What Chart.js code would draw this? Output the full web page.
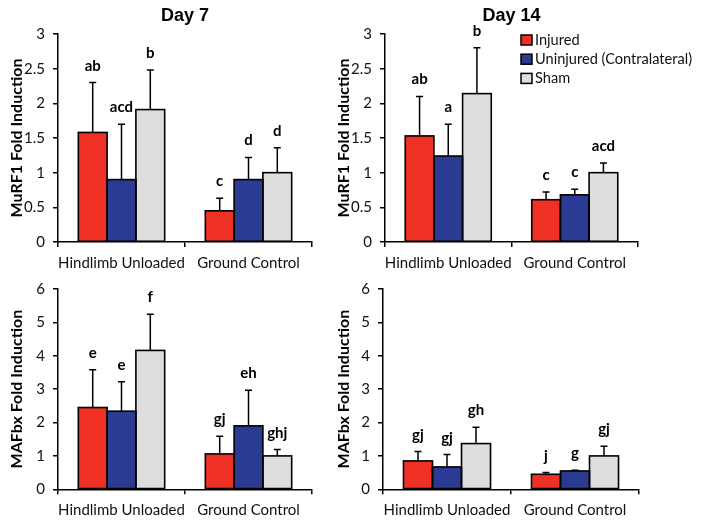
<!DOCTYPE html>
<html><head><meta charset="utf-8">
<script src="https://cdn.jsdelivr.net/npm/chart.js@4/dist/chart.umd.min.js"></script>
<style>
html,body{margin:0;padding:0;background:#fff;}
#wrap{position:relative;width:704px;height:524px;overflow:hidden;background:#fff;}
canvas{position:absolute;}
</style></head><body>
<div id="wrap">
<canvas id="c1" width="327" height="272" style="left:0;top:0"></canvas>
<canvas id="c2" width="377" height="272" style="left:327px;top:0"></canvas>
<canvas id="c3" width="327" height="252" style="left:0;top:272px"></canvas>
<canvas id="c4" width="377" height="252" style="left:327px;top:272px"></canvas>
</div>
<script>
// ---- data ----
const categories = ['Hindlimb Unloaded', 'Ground Control'];
const seriesNames = ['Injured', 'Uninjured (Contralateral)', 'Sham'];
const murfTicks = [0, 0.5, 1, 1.5, 2, 2.5, 3];
const mafbxTicks = [0, 1, 2, 3, 4, 5, 6];

// Day 7 MuRF1
const d7MurfInjured = [1.58, 0.45];
const d7MurfUninjured = [0.90, 0.90];
const d7MurfSham = [1.91, 1.00];
const d7MurfInjuredErr = [0.72, 0.18];
const d7MurfUninjuredErr = [0.80, 0.32];
const d7MurfShamErr = [0.57, 0.36];
const d7MurfInjuredSig = ['ab', 'c'];
const d7MurfUninjuredSig = ['acd', 'd'];
const d7MurfShamSig = ['b', 'd'];

// Day 14 MuRF1
const d14MurfInjured = [1.53, 0.61];
const d14MurfUninjured = [1.24, 0.68];
const d14MurfSham = [2.14, 1.00];
const d14MurfInjuredErr = [0.57, 0.11];
const d14MurfUninjuredErr = [0.46, 0.08];
const d14MurfShamErr = [0.66, 0.14];
const d14MurfInjuredSig = ['ab', 'c'];
const d14MurfUninjuredSig = ['a', 'c'];
const d14MurfShamSig = ['b', 'acd'];

// Day 7 MAFbx
const d7MafInjured = [2.45, 1.06];
const d7MafUninjured = [2.34, 1.90];
const d7MafSham = [4.16, 1.00];
const d7MafInjuredErr = [1.13, 0.53];
const d7MafUninjuredErr = [0.88, 1.07];
const d7MafShamErr = [1.08, 0.19];
const d7MafInjuredSig = ['e', 'gj'];
const d7MafUninjuredSig = ['e', 'eh'];
const d7MafShamSig = ['f', 'ghj'];

// Day 14 MAFbx
const d14MafInjured = [0.85, 0.45];
const d14MafUninjured = [0.67, 0.55];
const d14MafSham = [1.37, 1.00];
const d14MafInjuredErr = [0.28, 0.05];
const d14MafUninjuredErr = [0.37, 0.02];
const d14MafShamErr = [0.49, 0.29];
const d14MafInjuredSig = ['gj', 'j'];
const d14MafUninjuredSig = ['gj', 'g'];
const d14MafShamSig = ['gh', 'gj'];

// ---- style ----
const colors = ['#EE3124', '#2B3A92', '#DEDEDE'];
const FONT = 'Lato';

const annot = {
  id: 'annot',
  afterDatasetsDraw(chart) {
    const ctx = chart.ctx, ys = chart.scales.y;
    chart.data.datasets.forEach((ds, i) => {
      const meta = chart.getDatasetMeta(i);
      meta.data.forEach((bar, j) => {
        const p = bar.getProps(['x', 'y', 'base', 'width'], true);
        ctx.save();
        ctx.strokeStyle = '#000';
        ctx.lineWidth = 1.6;
        ctx.strokeRect(p.x - p.width / 2, p.y, p.width, p.base - p.y);
        const ey = ys.getPixelForValue(ds.data[j] + ds.errors[j]);
        ctx.lineWidth = 1.5;
        ctx.beginPath();
        ctx.moveTo(p.x, p.y); ctx.lineTo(p.x, ey);
        ctx.moveTo(p.x - 3.5, ey); ctx.lineTo(p.x + 3.5, ey);
        ctx.stroke();
        ctx.fillStyle = '#000';
        ctx.font = 'bold 15px ' + FONT;
        ctx.textAlign = 'center';
        ctx.textBaseline = 'alphabetic';
        ctx.fillText(ds.letters[j], p.x, ey - 12);
        ctx.restore();
      });
    });
  }
};

const boxLegend = {
  id: 'boxLegend',
  afterDraw(chart, args, opts) {
    if (!opts.show) return;
    const ctx = chart.ctx;
    chart.data.datasets.forEach((ds, i) => {
      const yy = opts.y + i * opts.gap;
      ctx.save();
      ctx.fillStyle = ds.backgroundColor;
      ctx.fillRect(opts.x, yy - 5, 11, 10);
      ctx.strokeStyle = '#000'; ctx.lineWidth = 1.5;
      ctx.strokeRect(opts.x, yy - 5, 11, 10);
      ctx.fillStyle = '#111';
      ctx.font = '14.6px ' + FONT;
      ctx.textAlign = 'left'; ctx.textBaseline = 'middle';
      ctx.fillText(ds.label, opts.x + 14, yy);
      ctx.restore();
    });
  }
};

function makeChart(id, cfg) {
  const ds = [0, 1, 2].map(k => ({
    label: seriesNames[k],
    data: cfg.vals[k],
    errors: cfg.errs[k],
    letters: cfg.sig[k],
    backgroundColor: colors[k],
    borderWidth: 0
  }));
  return new Chart(document.getElementById(id), {
    type: 'bar',
    data: { labels: categories, datasets: ds },
    options: {
      responsive: false, animation: false, devicePixelRatio: 1,
      layout: { padding: { left: 0, right: cfg.padRight, top: cfg.padTop, bottom: 0 } },
      datasets: { bar: { categoryPercentage: 0.68, barPercentage: 1 } },
      plugins: {
        legend: { display: false }, tooltip: { enabled: false },
        title: {
          display: !!cfg.title, text: cfg.title, fullSize: false,
          font: { family: '"Liberation Sans", Arial', size: 18, weight: 'bold' },
          color: '#000', padding: { top: 5, bottom: 7.4 }
        },
        boxLegend: cfg.legend || { show: false }
      },
      scales: {
        x: {
          grid: { offset: true, drawOnChartArea: false, drawTicks: true, tickLength: 5, color: '#000', lineWidth: 1.5 },
          border: { color: '#000', width: 1.5 },
          ticks: { font: { family: FONT, size: 15 }, color: '#111', padding: 7, maxRotation: 0, autoSkip: false },
          afterFit(s) { s.height = cfg.xH; }
        },
        y: {
          min: 0, max: cfg.ticks[cfg.ticks.length - 1],
          afterBuildTicks(s) { s.ticks = cfg.ticks.map(v => ({ value: v })); },
          ticks: { callback: v => String(v), font: { family: FONT, size: 15 }, color: '#111', padding: 8 },
          grid: { drawOnChartArea: false, drawTicks: true, tickLength: 5, color: '#000', lineWidth: 1.5 },
          border: { color: '#000', width: 1.5 },
          title: { display: true, text: cfg.ytitle, font: { family: FONT, size: 16, weight: 'bold' }, color: '#000', padding: { top: 7, bottom: 0 } },
          afterFit(s) { s.width = cfg.yW; }
        }
      }
    },
    plugins: [annot, boxLegend]
  });
}

makeChart('c1', {
  title: 'Day 7', ytitle: 'MuRF1 Fold Induction', ticks: murfTicks,
  vals: [d7MurfInjured, d7MurfUninjured, d7MurfSham],
  errs: [d7MurfInjuredErr, d7MurfUninjuredErr, d7MurfShamErr],
  sig: [d7MurfInjuredSig, d7MurfUninjuredSig, d7MurfShamSig],
  yW: 58, padRight: 15, padTop: 0, xH: 30
});
makeChart('c2', {
  title: 'Day 14', ytitle: 'MuRF1 Fold Induction', ticks: murfTicks,
  vals: [d14MurfInjured, d14MurfUninjured, d14MurfSham],
  errs: [d14MurfInjuredErr, d14MurfUninjuredErr, d14MurfShamErr],
  sig: [d14MurfInjuredSig, d14MurfUninjuredSig, d14MurfShamSig],
  yW: 58, padRight: 66, padTop: 0, xH: 30,
  legend: { show: true, x: 194, y: 40, gap: 19.2 }
});
makeChart('c3', {
  title: '', ytitle: 'MAFbx Fold Induction', ticks: mafbxTicks,
  vals: [d7MafInjured, d7MafUninjured, d7MafSham],
  errs: [d7MafInjuredErr, d7MafUninjuredErr, d7MafShamErr],
  sig: [d7MafInjuredSig, d7MafUninjuredSig, d7MafShamSig],
  yW: 58, padRight: 15, padTop: 10.7, xH: 34.7
});
makeChart('c4', {
  title: '', ytitle: 'MAFbx Fold Induction', ticks: mafbxTicks,
  vals: [d14MafInjured, d14MafUninjured, d14MafSham],
  errs: [d14MafInjuredErr, d14MafUninjuredErr, d14MafShamErr],
  sig: [d14MafInjuredSig, d14MafUninjuredSig, d14MafShamSig],
  yW: 56, padRight: 65, padTop: 10.7, xH: 34.7
});
</script>
</body></html>
